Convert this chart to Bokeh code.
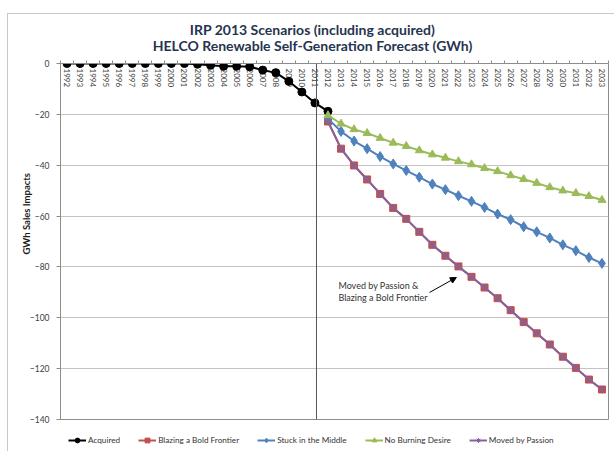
import math

from bokeh.core.properties import value
from bokeh.embed import file_html
from bokeh.layouts import column
from bokeh.models import (Arrow, CustomJSTickFormatter, FixedTicker, Label, Legend,
                          LegendItem, LinearAxis, NormalHead, Range1d, Span, Title)
from bokeh.plotting import figure
from bokeh.resources import INLINE

FONT = "Lato"
TITLE_COLOR = "#26344F"
TEXT_COLOR = "#404040"
AXIS_COLOR = "#8C8C8C"
FRAME_BORDER = "1px solid #C8C8C8"

# ---- data (GWh) ----
years = list(range(1992, 2034))
acquired_years = list(range(1992, 2013))
acquired = [0, 0, 0, 0, 0, 0, 0, 0, 0, 0, -0.3, -0.7, -1.1, -1.1, -1.3,
            -2.6, -3.6, -7.0, -11.2, -15.5, -18.8]

scenario_years = list(range(2012, 2034))
blazing = [-22.8, -33.5, -40.1, -45.6, -51.3, -56.8, -61.1, -66.2, -71.3, -75.6,
           -79.8, -83.9, -88.1, -92.3, -97.0, -101.7, -106.1, -110.5, -115.3,
           -119.7, -124.3, -128.2]
stuck = [-21.7, -26.7, -30.5, -33.5, -36.6, -39.5, -42.1, -44.7, -47.4, -49.6,
         -52.0, -54.2, -56.6, -59.2, -61.4, -64.2, -66.2, -68.6, -71.3, -73.6,
         -76.3, -78.6]
no_burning = [-20.4, -23.7, -25.9, -27.4, -29.3, -31.2, -32.5, -34.2, -35.8, -37.1,
              -38.5, -39.7, -41.2, -42.4, -44.0, -45.5, -47.0, -48.7, -50.0, -51.0,
              -52.2, -53.7]
moved = [-22.8, -33.5, -40.1, -45.6, -51.3, -56.8, -61.1, -66.2, -71.3, -75.6,
         -79.8, -83.9, -88.1, -92.3, -97.0, -101.7, -106.1, -110.5, -115.3,
         -119.7, -124.3, -128.2]

y_ticks = [0, -20, -40, -60, -80, -100, -120, -140]
year_labels = [str(y) for y in years]

title_lines = ["IRP 2013 Scenarios (including acquired)",
               "HELCO Renewable Self-Generation Forecast (GWh)"]

series = [
    # label, x, y, colour, marker, marker size
    ("Acquired", acquired_years, acquired, "#000000", "circle", 8),
    ("Blazing a Bold Frontier", scenario_years, blazing, "#C0504D", "square", 7),
    ("Stuck in the Middle", scenario_years, stuck, "#4F81BD", "diamond", 10),
    ("No Burning Desire", scenario_years, no_burning, "#9BBB59", "triangle", 8),
    ("Moved by Passion", scenario_years, moved, "#8064A2", "asterisk", 6),
]

# Page geometry: the chart area sits inside a thin frame offset (7, 13) from the corner.
PAGE_W = 606
LEFT, RIGHT = 52, 6


def blank_strip(height, x_range, y_range):
    f = figure(width=PAGE_W, height=height, x_range=x_range, y_range=y_range,
               x_axis_location=None, y_axis_location=None, title=None,
               output_backend="svg", toolbar_location=None,
               min_border_left=LEFT, min_border_right=RIGHT,
               min_border_top=0, min_border_bottom=0)
    f.outline_line_color = None
    f.grid.visible = False
    return f


# ---- title strip (data units are page pixels) ----
title_fig = blank_strip(41, Range1d(60, 608), Range1d(55, 14))
for text, ypos in zip(title_lines, [29, 45]):
    title_fig.add_layout(Label(x=312, y=ypos, text=text, text_align="center",
                               text_baseline="middle", text_font=FONT,
                               text_font_size="14px", text_font_style="bold",
                               text_color=TITLE_COLOR))

# ---- main chart ----
p = figure(width=PAGE_W, height=370, title=None,
           x_range=Range1d(1991.5, 2033.5), y_range=Range1d(-140, 0),
           x_axis_location=None, output_backend="svg", toolbar_location=None,
           min_border_left=LEFT, min_border_right=RIGHT, min_border_top=8,
           min_border_bottom=6)
p.outline_line_color = AXIS_COLOR

yaxis = p.yaxis[0]
yaxis.ticker = FixedTicker(ticks=y_ticks)
yaxis.axis_line_color = AXIS_COLOR
yaxis.major_tick_line_color = AXIS_COLOR
yaxis.major_tick_out = 4
yaxis.major_tick_in = 0
yaxis.minor_tick_out = 0
yaxis.minor_tick_in = 0
yaxis.major_label_standoff = 7
yaxis.major_label_text_font = FONT
yaxis.major_label_text_font_size = "8.5px"
yaxis.major_label_text_color = TEXT_COLOR

p.xgrid.visible = False
p.ygrid.ticker = FixedTicker(ticks=y_ticks)
p.ygrid.grid_line_color = "#C4C4C4"

# category axis along the zero line: only the small ticks between years
top = LinearAxis(ticker=FixedTicker(ticks=[y - 0.5 for y in years] + [years[-1] + 0.5]),
                 formatter=CustomJSTickFormatter(code="return ''"),
                 major_tick_out=3, major_tick_in=0, minor_tick_out=0, minor_tick_in=0,
                 major_label_standoff=0,
                 axis_line_color=AXIS_COLOR, major_tick_line_color=AXIS_COLOR)
p.add_layout(top, "above")

# value-axis title, tucked in close to the tick labels
p.add_layout(Title(text="GWh Sales Impacts", align="left", offset=165, standoff=-11,
                   text_font=FONT, text_font_size="9.5px", text_font_style="bold",
                   text_color="#1A1A1A"), "left")

# rotated year labels hanging below the zero line
p.text(x=years, y=[0] * len(years), text=year_labels, angle=-math.pi / 2,
       text_align="left", text_baseline="middle", y_offset=5,
       text_font=value(FONT), text_font_size="8px", text_color=TEXT_COLOR)

# divider between history and forecast
p.add_layout(Span(location=2011.12, dimension="height",
                  line_color="#555555", line_width=1))


def draw_series(fig, xs, ys, color, marker, size, alpha=1.0):
    line = fig.line(xs, ys, line_color=color, line_width=2, line_alpha=alpha)
    if marker == "asterisk":
        mark = fig.scatter(xs, ys, marker=marker, size=size, line_color=color,
                           line_width=1)
    else:
        mark = fig.scatter(xs, ys, marker=marker, size=size, fill_color=color,
                           line_color=color)
    return line, mark


for label, xs, ys, color, marker, size in series:
    draw_series(p, xs, ys, color, marker, size,
                alpha=0.85 if label == "Moved by Passion" else 1.0)

# callout
p.add_layout(Label(x=2012.8, y=-87.3, text="Moved by Passion &",
                   text_align="left", text_baseline="middle",
                   text_font=FONT, text_font_size="9px", text_color="#333333"))
p.add_layout(Label(x=2012.8, y=-92.0, text="Blazing a Bold Frontier",
                   text_align="left", text_baseline="middle",
                   text_font=FONT, text_font_size="9px", text_color="#333333"))
p.add_layout(Arrow(end=NormalHead(size=6, fill_color="black", line_color="black"),
                   x_start=2019.78, y_start=-90.05, x_end=2021.84, y_end=-84.15,
                   line_color="black", line_width=1))

# ---- legend strip: swatch renderers sit outside the visible range ----
leg_fig = blank_strip(26, Range1d(0, 1), Range1d(0, 1))
items = []
for label, xs, ys, color, marker, size in series:
    swatch = draw_series(leg_fig, [-5], [-5], color, marker, size)
    items.append(LegendItem(label=label, renderers=list(swatch)))

legend = Legend(items=items, orientation="horizontal", location=(8, 5),
                margin=0, padding=4, spacing=18, glyph_width=18, glyph_height=12,
                label_height=12, label_standoff=2, label_text_font=FONT,
                label_text_font_size="8.2px", label_text_color="#333333",
                border_line_color=None, background_fill_alpha=0)
leg_fig.add_layout(legend)

page = column(title_fig, p, leg_fig, spacing=0, margin=(13, 0, 0, 7),
              styles={"border-top": FRAME_BORDER, "border-left": FRAME_BORDER})
open("out.html", "w").write(file_html(page, INLINE))
